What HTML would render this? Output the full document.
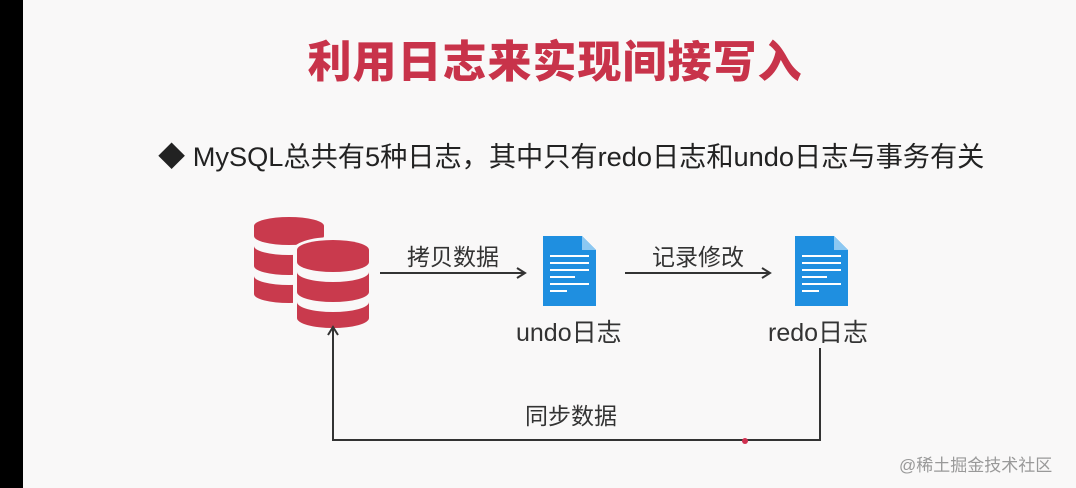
<!DOCTYPE html>
<html><head><meta charset="utf-8"><style>
body{margin:0;width:1076px;height:488px;background:#f9f8f8;overflow:hidden;position:relative;font-family:"Liberation Sans","Noto Sans CJK SC",sans-serif;}
.t{position:absolute;white-space:nowrap;}
</style></head><body>
<div style="position:absolute;left:0;top:0;width:23px;height:488px;background:#000"></div>
<div class="t" style="left:0;width:1110px;text-align:center;top:26px;font-size:44px;font-weight:900;color:#c8334a;letter-spacing:1px">利用日志来实现间接写入</div>
<div class="t" style="left:158px;top:134px;font-size:27.2px;color:#222">◆ MySQL总共有5种日志，其中只有redo日志和undo日志与事务有关</div>
<svg style="position:absolute;left:0;top:0" width="1076" height="488">
<defs>
<marker id="a" markerWidth="12" markerHeight="12" refX="10" refY="6" orient="auto" markerUnits="userSpaceOnUse"><path d="M2,1 L10,6 L2,11" fill="none" stroke="#333" stroke-width="2"/></marker>
</defs>
<g fill="#c93a4d">
<path d="M254,226 a35,9 0 0 1 70,0 v10 a35,9 0 0 1 -70,0z"/>
<path d="M254,246 a35,9 0 0 0 70,0 v20 a35,9 0 0 1 -70,0z"/>
<path d="M254,276 a35,9 0 0 0 70,0 v18 a35,9 0 0 1 -70,0z"/>
</g>
<path d="M293,250 a40,13 0 0 1 80,0 v70 a40,13 0 0 1 -80,0z" fill="#f9f8f8"/>
<g fill="#c93a4d">
<path d="M297,250 a36,10 0 0 1 72,0 v12 a36,10 0 0 1 -72,0z"/>
<path d="M297,272 a36,10 0 0 0 72,0 v20 a36,10 0 0 1 -72,0z"/>
<path d="M297,302 a36,10 0 0 0 72,0 v16 a36,10 0 0 1 -72,0z"/>
</g>
<g stroke="#333" stroke-width="2" fill="none">
<line x1="380" y1="273" x2="525" y2="273" marker-end="url(#a)"/>
<line x1="625" y1="273" x2="770" y2="273" marker-end="url(#a)"/>
<polyline points="820,348 820,440 333,440 333,327" marker-end="url(#a)"/>
</g>
<g>
<path d="M543,236 h39 l14,14 v56 h-53z" fill="#1f8fe0"/>
<path d="M582,236 v14 h14z" fill="#8cc8f2"/>
<g stroke="#fff" stroke-width="2"><line x1="550" y1="256" x2="589" y2="256"/><line x1="550" y1="263" x2="589" y2="263"/><line x1="550" y1="270" x2="589" y2="270"/><line x1="550" y1="277" x2="575" y2="277"/><line x1="550" y1="284" x2="589" y2="284"/><line x1="550" y1="291" x2="567" y2="291"/></g>
</g>
<g transform="translate(252,0)">
<path d="M543,236 h39 l14,14 v56 h-53z" fill="#1f8fe0"/>
<path d="M582,236 v14 h14z" fill="#8cc8f2"/>
<g stroke="#fff" stroke-width="2"><line x1="550" y1="256" x2="589" y2="256"/><line x1="550" y1="263" x2="589" y2="263"/><line x1="550" y1="270" x2="589" y2="270"/><line x1="550" y1="277" x2="575" y2="277"/><line x1="550" y1="284" x2="589" y2="284"/><line x1="550" y1="291" x2="567" y2="291"/></g>
</g>
<circle cx="745" cy="441" r="3" fill="#d03050"/>
</svg>
<div class="t" style="left:407px;top:238px;font-size:23px;color:#333">拷贝数据</div>
<div class="t" style="left:652px;top:238px;font-size:23px;color:#333">记录修改</div>
<div class="t" style="left:516px;top:313px;font-size:25px;color:#333">undo日志</div>
<div class="t" style="left:768px;top:313px;font-size:25px;color:#333">redo日志</div>
<div class="t" style="left:525px;top:397px;font-size:23px;color:#333">同步数据</div>
<div class="t" style="left:899px;top:451px;font-size:17px;color:#999">@稀土掘金技术社区</div>
</body></html>
